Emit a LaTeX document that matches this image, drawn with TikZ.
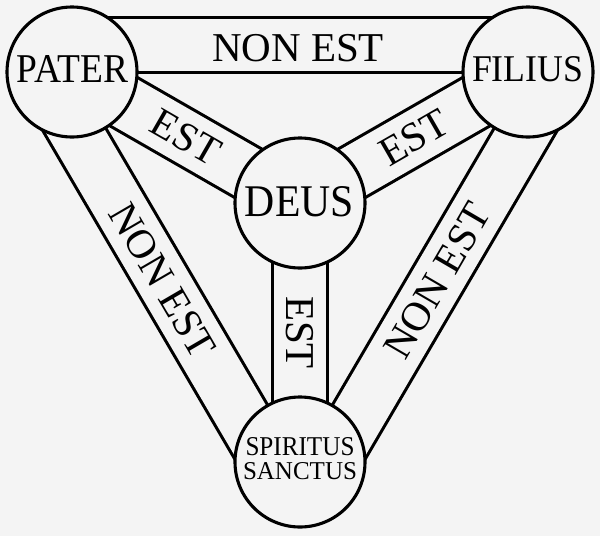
\documentclass[tikz,border=0pt]{standalone}
\usepackage{fontspec}
\setmainfont{Liberation Serif}
\usetikzlibrary{calc}
\definecolor{bg}{RGB}{244,244,244}
\pgfdeclarelayer{back}
\pgfdeclarelayer{bands}
\pgfsetlayers{back,bands,main}
\begin{document}
\begin{tikzpicture}[x=1pt,y=-1pt,
  band/.style={draw=black, double=bg, double distance=52.4pt, line width=3.1pt},
  disc/.style={circle, draw=black, fill=bg, line width=3.1pt, minimum size=130pt, inner sep=0pt},
  lbl/.style={inner sep=0pt, text=black, font=\fontsize{41}{41}\selectfont},
  ctext/.style={inner sep=0pt, text=black, align=center, font=\fontsize{26}{24}\selectfont}]
\begin{pgfonlayer}{back}
\fill[bg] (0,0) rectangle (600,536);
\end{pgfonlayer}
\useasboundingbox (0,0) rectangle (600,536);
% circles
\node[disc] (P) at (72,72) {};
\node[disc] (F) at (528,72) {};
\node[disc] (D) at (300,203) {};
\node[disc] (S) at (300,462) {};
\node[ctext] (Pl) at (72.5,68.5) {\resizebox{111pt}{27pt}{PATER}};
\node[ctext] (Fl) at (527.5,69.5) {\resizebox{111pt}{25pt}{FILIUS}};
\node[ctext] (Dl) at (299.5,202) {\resizebox{109pt}{30pt}{DEUS}};
\node[ctext] (Sl) at (300,459) {\resizebox{109pt}{18pt}{SPIRITUS}\\\resizebox{114pt}{17pt}{SANCTUS}};
% bands
\begin{pgfonlayer}{bands}
\draw[band] ([yshift=27pt]P.center) -- ([yshift=27pt]F.center);
\draw[band] (P.center) -- (D.center);
\draw[band] (F.center) -- (D.center);
\draw[band] (D.center) -- (S.center);
\draw[band] ([xshift=-23.31pt,yshift=-13.63pt]P.center) -- ([xshift=-23.31pt,yshift=-13.63pt]S.center);
\draw[band] ([xshift=23.31pt,yshift=-13.63pt]F.center) -- ([xshift=23.31pt,yshift=-13.63pt]S.center);
\node[lbl] (t1) at (298,48) {NON EST};
\node[lbl, rotate=-29.9] (t2) at ($(P.center)!0.5!(D.center)$) {EST};
\node[lbl, rotate=29.9] (t3) at ($(F.center)!0.5!(D.center)$) {EST};
\node[lbl, rotate=-90] (t4) at ($(D.center)!0.5!(S.center)$) {EST};
\node[lbl, rotate=-59.75] (t5) at ($([xshift=-23.31pt,yshift=-13.63pt]P.center)!0.5!([xshift=-23.31pt,yshift=-13.63pt]S.center)$) {NON EST};
\node[lbl, rotate=59.75] (t6) at ($([xshift=23.31pt,yshift=-13.63pt]F.center)!0.5!([xshift=23.31pt,yshift=-13.63pt]S.center)$) {NON EST};
\end{pgfonlayer}
\end{tikzpicture}
\end{document}
